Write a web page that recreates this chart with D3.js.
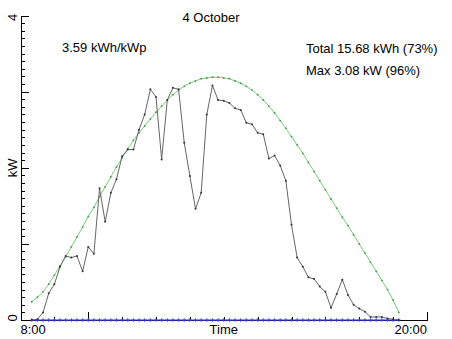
<!DOCTYPE html>
<html>
<head>
<meta charset="utf-8">
<script src="https://cdnjs.cloudflare.com/ajax/libs/d3/7.8.5/d3.min.js"></script>
<style>
  body { margin: 0; background: #fff; }
  svg { display: block; font-family: "Liberation Sans", Arial, sans-serif; }
</style>
</head>
<body>
<svg></svg>
<script>
let width = 452;
let height = 339;

// 10 minute samples
let times = [
  "8:20","8:30","8:40","8:50","9:00","9:10","9:20","9:30","9:40","9:50",
  "10:00","10:10","10:20","10:30","10:40","10:50","11:00","11:10","11:20","11:30",
  "11:40","11:50","12:00","12:10","12:20","12:30","12:40","12:50","13:00","13:10",
  "13:20","13:30","13:40","13:50","14:00","14:10","14:20","14:30","14:40","14:50",
  "15:00","15:10","15:20","15:30","15:40","15:50","16:00","16:10","16:20","16:30",
  "16:40","16:50","17:00","17:10","17:20","17:30","17:40","17:50","18:00","18:10",
  "18:20","18:30","18:40","18:50","19:00","19:10"
];

let power = [
  0.00,0.01,0.10,0.35,0.47,0.70,0.84,0.82,0.84,0.64,
  0.96,0.87,1.73,1.29,1.67,1.85,2.15,2.24,2.24,2.50,
  2.70,3.03,2.93,2.11,2.89,3.05,3.03,2.33,1.89,1.46,
  1.67,2.70,3.08,2.89,2.88,2.85,2.78,2.76,2.59,2.57,
  2.46,2.44,2.12,2.16,2.03,1.83,1.25,0.82,0.70,0.56,
  0.54,0.44,0.37,0.16,0.34,0.53,0.33,0.20,0.15,0.11,
  0.04,0.04,0.04,0.02,0.01,0.00
];

let clearSky = [
  0.24,0.30,0.37,0.47,0.59,0.71,0.83,0.96,1.09,1.22,
  1.36,1.48,1.62,1.75,1.88,2.01,2.13,2.25,2.36,2.46,
  2.55,2.64,2.73,2.81,2.89,2.96,3.02,3.07,3.11,3.14,
  3.17,3.18,3.19,3.19,3.18,3.17,3.14,3.11,3.07,3.02,
  2.96,2.89,2.81,2.72,2.62,2.52,2.41,2.30,2.19,2.07,
  1.95,1.83,1.71,1.59,1.47,1.35,1.24,1.12,1.00,0.88,
  0.76,0.64,0.52,0.40,0.26,0.10
];

let baseline = [
  0,0,0,0,0,0,0,0,0,0, 0,0,0,0,0,0,0,0,0,0,
  0,0,0,0,0,0,0,0,0,0, 0,0,0,0,0,0,0,0,0,0,
  0,0,0,0,0,0,0,0,0,0, 0,0,0,0,0,0,0,0,0,0,
  0,0,0,0,0,0
];

let xMajor = [10, 20];
let xMinor = [9, 11, 12, 13, 14, 15, 16, 17, 18, 19];
let yMajor = [0, 1, 2, 3, 4];
let yMinor = d3.range(0, 4.0001, 0.1);

let title = "4 October";
let yieldText = "3.59 kWh/kWp";
let totalText = "Total 15.68 kWh (73%)";
let maxText = "Max 3.08 kW (96%)";

let hours = (s) => {
  let p = s.split(":");
  return +p[0] + +p[1] / 60;
};

let svg = d3.select("svg").attr("width", width).attr("height", height);

let xScale = d3.scaleLinear().domain([8, 20]).range([20.5, 427]);
let yScale = d3.scaleLinear().domain([0, 4]).range([320, 15.5]);

// axes
let axisG = svg.append("g").attr("shape-rendering", "crispEdges");

axisG.append("g")
  .attr("transform", "translate(0," + yScale(0) + ")")
  .call(d3.axisBottom(xScale).tickValues(xMinor).tickSize(-3.5).tickFormat(""))
  .call((g) => g.select(".domain").remove());
axisG.append("g")
  .attr("transform", "translate(0," + yScale(0) + ")")
  .call(d3.axisBottom(xScale).tickValues(xMajor).tickSize(-8).tickSizeOuter(0).tickFormat(""));

axisG.append("g")
  .attr("transform", "translate(" + xScale(8) + ",0)")
  .call(d3.axisLeft(yScale).tickValues(yMinor).tickSize(-4).tickFormat(""))
  .call((g) => g.select(".domain").remove());
axisG.append("g")
  .attr("transform", "translate(" + xScale(8) + ",0)")
  .call(d3.axisLeft(yScale).tickValues(yMajor).tickSize(-8).tickSizeOuter(0).tickFormat(""));

axisG.selectAll("line, path").attr("stroke", "#000").attr("stroke-width", 1);

// axis labels
svg.append("text").attr("x", xScale(8)).attr("y", 334).attr("font-size", 13).text("8:00");
svg.append("text").attr("x", xScale(20)).attr("y", 334).attr("font-size", 13)
  .attr("text-anchor", "end").text("20:00");
svg.append("text").attr("x", xScale(14)).attr("y", 334).attr("font-size", 13)
  .attr("text-anchor", "middle").text("Time");

let yLabel = (txt, y) => {
  svg.append("text")
    .attr("transform", "translate(17," + y + ") rotate(-90)")
    .attr("font-size", 13)
    .attr("text-anchor", "middle")
    .text(txt);
};
yLabel("0", yScale(0) - 2);
yLabel("4", yScale(4) + 2);
yLabel("kW", yScale(2));

// annotations
svg.append("text").attr("x", 211).attr("y", 22).attr("font-size", 13)
  .attr("text-anchor", "middle").text(title);
svg.append("text").attr("x", 62).attr("y", 52).attr("font-size", 13).text(yieldText);
svg.append("text").attr("x", 306).attr("y", 53).attr("font-size", 13).text(totalText);
svg.append("text").attr("x", 306).attr("y", 75).attr("font-size", 13).text(maxText);

let line = (vals) =>
  d3.line().x((d, i) => xScale(hours(times[i]))).y((d) => yScale(d))(vals);

// blue zero line with plus markers
svg.append("path").attr("d", line(baseline)).attr("fill", "none")
  .attr("stroke", "#4040ff").attr("stroke-width", 1);
svg.append("g").selectAll("path").data(baseline).enter().append("path")
  .attr("d", (d, i) => {
    let x = xScale(hours(times[i]));
    let y = yScale(d);
    return "M" + (x - 2) + "," + y + "H" + (x + 2) + "M" + x + "," + (y - 2) + "V" + (y + 2);
  })
  .attr("stroke", "#4040ff").attr("stroke-width", 0.8);

// clear-sky curve
svg.append("path").attr("d", line(clearSky)).attr("fill", "none")
  .attr("stroke", "#78cc78").attr("stroke-width", 1);
svg.append("g").selectAll("circle").data(clearSky).enter().append("circle")
  .attr("cx", (d, i) => xScale(hours(times[i])))
  .attr("cy", (d) => yScale(d))
  .attr("r", 0.9)
  .attr("fill", "#3a9a3a");

// measured power
svg.append("path").attr("d", line(power)).attr("fill", "none")
  .attr("stroke", "#666").attr("stroke-width", 1);
svg.append("g").selectAll("circle").data(power).enter().append("circle")
  .attr("cx", (d, i) => xScale(hours(times[i])))
  .attr("cy", (d) => yScale(d))
  .attr("r", 1)
  .attr("fill", "#333");
</script>
</body>
</html>
